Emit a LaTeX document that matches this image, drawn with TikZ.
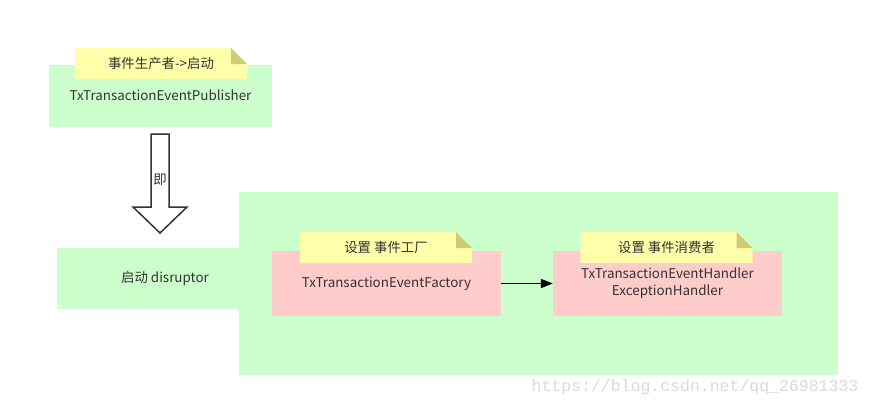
\documentclass[tikz,border=0pt]{standalone}
\usepackage{fontspec}
\setmainfont{Noto Sans CJK SC}
\newfontfamily\wmfont{Liberation Mono}
\usetikzlibrary{arrows.meta}
\definecolor{boxgreen}{HTML}{CCFFCC}
\definecolor{boxpink}{HTML}{FFCCCC}
\definecolor{noteyellow}{HTML}{FFFFAA}
\definecolor{notefold}{HTML}{CCCC77}
\definecolor{txtgray}{HTML}{333333}
\definecolor{wmgray}{HTML}{DADADA}
\tikzset{
 boxtxt/.style={text=txtgray,font=\fontsize{13.4}{17}\selectfont},
 greenbox/.style={fill=boxgreen,inner sep=0,boxtxt},
 pinkbox/.style={fill=boxpink,inner sep=0,minimum width=229,minimum height=65,boxtxt,align=center},
 notebox/.style={inner sep=0,minimum width=172,minimum height=31,boxtxt,
  path picture={\fill[noteyellow] (path picture bounding box.south west) |- ([xshift=-16pt]path picture bounding box.north east)
    -- ([yshift=-16pt]path picture bounding box.north east) |- cycle;
   \fill[notefold] ([xshift=-16pt]path picture bounding box.north east) -- ([xshift=-16pt,yshift=-16pt]path picture bounding box.north east)
    -- ([yshift=-16pt]path picture bounding box.north east) -- cycle;}}
}
\begin{document}
\begin{tikzpicture}[x=1pt,y=-1pt]
\useasboundingbox (0,0) rectangle (871,408);
% producer
\node[greenbox,minimum width=223,minimum height=62] (pub) at (160.5,95.5) {};
\node[boxtxt] (pubtxt) at (160.5,95.5) {TxTransactionEventPublisher};
\node[notebox] (n1) at (161,63.5) {事件生产者->启动};
% block arrow
\draw[txtgray,line width=1.5pt,fill=white,line join=miter] (151,134) -- (169,134) -- (169,207) -- (187,207) -- (160,233) -- (133,207) -- (151,207) -- cycle;
\node[boxtxt] (ji) at (160,180) {即};
% disruptor
\node[greenbox,minimum width=183,minimum height=61] (start) at (148.5,278.5) {};
\node[greenbox,minimum width=599,minimum height=183] (big) at (538.5,283.5) {};
\node[boxtxt] (starttxt) at (165,278) {启动 disruptor};
\node[pinkbox] (fac) at (386.5,283.5) {TxTransactionEventFactory};
\node[pinkbox] (hdl) at (667.5,283.5) {TxTransactionEventHandler\\ExceptionHandler};
\node[notebox] (n2) at (386,247.5) {设置 事件工厂};
\node[notebox] (n3) at (666.5,247.5) {设置 事件消费者};
\draw[-{Triangle[length=12pt,width=9pt]},line width=1.6pt] (fac) -- (hdl);
% watermark
\node[text=wmgray,font=\wmfont\fontsize{16.5}{18}\selectfont] (wm) at (695,387) {https://blog.csdn.net/qq\_26981333};
\end{tikzpicture}
\end{document}
